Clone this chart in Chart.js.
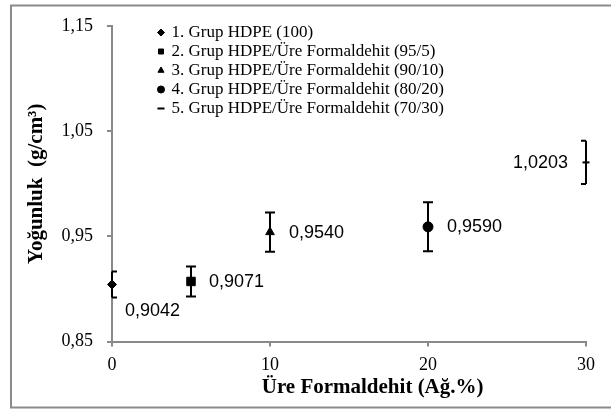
<!DOCTYPE html>
<html>
<head>
<meta charset="utf-8">
<script src="https://cdn.jsdelivr.net/npm/chart.js@4.4.1/dist/chart.umd.min.js"></script>
<style>
  html, body { margin: 0; padding: 0; background: #fff; }
  #wrap { width: 611px; height: 410px; }
</style>
</head>
<body>
<div id="wrap"><canvas id="density" width="611" height="410"></canvas></div>
<script>
const groupLabels = [
  '1. Grup HDPE (100)',
  '2. Grup HDPE/Üre Formaldehit (95/5)',
  '3. Grup HDPE/Üre Formaldehit (90/10)',
  '4. Grup HDPE/Üre Formaldehit (80/20)',
  '5. Grup HDPE/Üre Formaldehit (70/30)'
];
const ufContent = [0, 5, 10, 20, 30];
const density = [0.9042, 0.9071, 0.9540, 0.9590, 1.0203];
const densityErr = [0.0124, 0.0143, 0.0186, 0.0233, 0.0205];
const yTicks = [0.85, 0.95, 1.05, 1.15];

const markers = ['rectRot', 'rect', 'triangle', 'circle', 'line'];
const markerSize = [4.5, 6, 5, 5, 3.5];
// where each value label sits next to its point
const labelPlace = [
  { dx: 13, dy: 27, align: 'left' },
  { dx: 18, dy: 1, align: 'left' },
  { dx: 19, dy: 1, align: 'left' },
  { dx: 19, dy: 0, align: 'left' },
  { dx: -18, dy: 1, align: 'right' }
];

const serif = "'Liberation Serif', 'Times New Roman', serif";
const sans = "'Liberation Sans', Arial, sans-serif";
const axisGray = '#898989';
const comma = (v, d) => v.toFixed(d).replace('.', ',');

const frame = {
  id: 'frame',
  beforeDraw(chart) {
    const ctx = chart.ctx;
    ctx.save();
    ctx.strokeStyle = '#8a8a8a';
    ctx.lineWidth = 2;
    ctx.strokeRect(11, 5.5, 601, 402);
    ctx.restore();
  }
};

const errorBars = {
  id: 'errorBars',
  beforeDatasetsDraw(chart) {
    const ctx = chart.ctx, y = chart.scales.y, area = chart.chartArea;
    ctx.save();
    ctx.strokeStyle = '#000';
    ctx.lineWidth = 2;
    chart.data.datasets.forEach((ds, i) => {
      const p = chart.getDatasetMeta(i).data[0];
      const top = y.getPixelForValue(density[i] + densityErr[i]);
      const bot = y.getPixelForValue(density[i] - densityErr[i]);
      const l = Math.max(p.x - 5, area.left), r = Math.min(p.x + 5, area.right);
      ctx.beginPath();
      ctx.moveTo(p.x, top); ctx.lineTo(p.x, bot);
      ctx.moveTo(l, top); ctx.lineTo(r, top);
      ctx.moveTo(l, bot); ctx.lineTo(r, bot);
      ctx.stroke();
    });
    ctx.restore();
  }
};

const valueLabels = {
  id: 'valueLabels',
  afterDatasetsDraw(chart) {
    const ctx = chart.ctx;
    ctx.save();
    ctx.font = '18px ' + sans;
    ctx.fillStyle = '#000';
    ctx.textBaseline = 'middle';
    chart.data.datasets.forEach((ds, i) => {
      const p = chart.getDatasetMeta(i).data[0];
      const pl = labelPlace[i];
      ctx.textAlign = pl.align;
      ctx.fillText(comma(density[i], 4), p.x + pl.dx, p.y + pl.dy);
    });
    ctx.restore();
  }
};

// legend sits inside the plot, a bit right of the y axis
const legendSpot = {
  id: 'legendSpot',
  afterLayout(chart) {
    const lg = chart.legend, a = chart.chartArea;
    lg.left = a.left + 45;
    lg.top = a.top - 4;
    lg.right = a.right;
    lg.bottom = a.bottom;
  }
};

new Chart(document.getElementById('density'), {
  type: 'scatter',
  data: {
    datasets: groupLabels.map((label, i) => ({
      label,
      data: [{ x: ufContent[i], y: density[i] }],
      pointStyle: markers[i],
      pointRadius: markerSize[i],
      pointHoverRadius: markerSize[i],
      backgroundColor: '#000',
      borderColor: '#000',
      borderWidth: markers[i] === 'line' ? 2 : 1,
      clip: false
    }))
  },
  options: {
    responsive: false,
    animation: false,
    layout: { padding: { left: 21, right: 25, top: 26, bottom: 6 } },
    plugins: {
      tooltip: { enabled: false },
      legend: {
        position: 'chartArea',
        align: 'start',
        labels: {
          usePointStyle: true,
          boxWidth: 4,
          boxHeight: 5,
          padding: 2,
          color: '#000',
          font: { family: serif, size: 17 }
        }
      }
    },
    scales: {
      x: {
        type: 'linear',
        position: 'bottom',
        min: 0,
        max: 30,
        ticks: { stepSize: 10, padding: 8, color: '#000', font: { family: serif, size: 18 } },
        grid: { drawOnChartArea: false, tickLength: 5, color: axisGray, lineWidth: 2 },
        border: { color: axisGray, width: 2 },
        title: {
          display: true,
          text: '\u2003\u2003 Üre Formaldehit (Ağ.%)',
          color: '#000',
          font: { family: serif, size: 21, weight: 'bold' },
          padding: { top: 4, bottom: 4 }
        },
        afterFit: s => { s.height = 62.5; }
      },
      y: {
        min: 0.85,
        max: 1.15,
        afterBuildTicks: s => { s.ticks = yTicks.map(v => ({ value: v })); },
        ticks: {
          padding: 14,
          color: '#000',
          font: { family: serif, size: 18 },
          callback: v => comma(v, 2)
        },
        grid: { drawOnChartArea: false, tickLength: 5, color: axisGray, lineWidth: 2 },
        border: { color: axisGray, width: 2 },
        title: {
          display: true,
          text: 'Yoğunluk  (g/cm³)',
          color: '#000',
          font: { family: serif, size: 21, weight: 'bold' },
          padding: { top: 3, bottom: 4 }
        },
        afterFit: s => { s.width = 91; }
      }
    }
  },
  plugins: [frame, errorBars, valueLabels, legendSpot]
});
</script>
</body>
</html>
